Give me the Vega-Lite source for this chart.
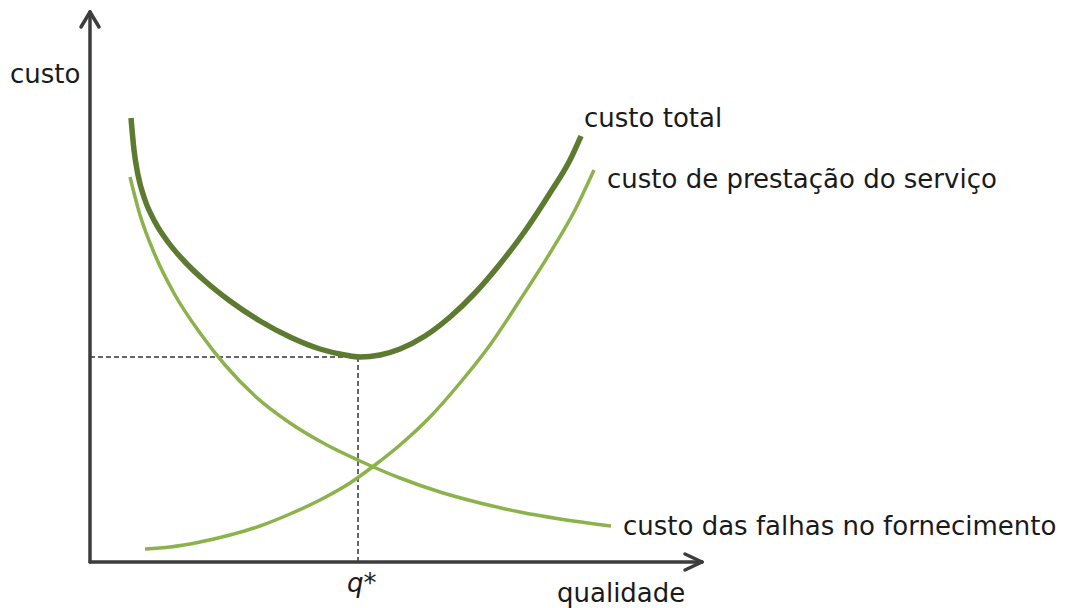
{
  "$schema": "https://vega.github.io/schema/vega-lite/v6.json",
  "width": 1065,
  "height": 608,
  "padding": 0,
  "autosize": {"type": "fit", "contains": "padding"},
  "background": "white",
  "config": {"view": {"stroke": null}},
  "datasets": {
    "curvas": [
      {"serie": "total", "qualidade": 41, "custo": 444},
      {"serie": "total", "qualidade": 44, "custo": 412},
      {"serie": "total", "qualidade": 48, "custo": 387},
      {"serie": "total", "qualidade": 55, "custo": 362},
      {"serie": "total", "qualidade": 65, "custo": 340},
      {"serie": "total", "qualidade": 78, "custo": 320},
      {"serie": "total", "qualidade": 95, "custo": 300},
      {"serie": "total", "qualidade": 115, "custo": 281},
      {"serie": "total", "qualidade": 140, "custo": 261},
      {"serie": "total", "qualidade": 170, "custo": 241},
      {"serie": "total", "qualidade": 200, "custo": 225},
      {"serie": "total", "qualidade": 230, "custo": 213},
      {"serie": "total", "qualidade": 255, "custo": 207},
      {"serie": "total", "qualidade": 270, "custo": 205},
      {"serie": "total", "qualidade": 290, "custo": 207},
      {"serie": "total", "qualidade": 310, "custo": 213},
      {"serie": "total", "qualidade": 335, "custo": 226},
      {"serie": "total", "qualidade": 360, "custo": 245},
      {"serie": "total", "qualidade": 385, "custo": 269},
      {"serie": "total", "qualidade": 410, "custo": 298},
      {"serie": "total", "qualidade": 435, "custo": 331},
      {"serie": "total", "qualidade": 460, "custo": 369},
      {"serie": "total", "qualidade": 480, "custo": 402},
      {"serie": "total", "qualidade": 491, "custo": 426},
      {"serie": "prestacao", "qualidade": 55, "custo": 13},
      {"serie": "prestacao", "qualidade": 80, "custo": 15},
      {"serie": "prestacao", "qualidade": 110, "custo": 20},
      {"serie": "prestacao", "qualidade": 140, "custo": 27},
      {"serie": "prestacao", "qualidade": 170, "custo": 36},
      {"serie": "prestacao", "qualidade": 200, "custo": 48},
      {"serie": "prestacao", "qualidade": 230, "custo": 62},
      {"serie": "prestacao", "qualidade": 260, "custo": 79},
      {"serie": "prestacao", "qualidade": 285, "custo": 97},
      {"serie": "prestacao", "qualidade": 310, "custo": 117},
      {"serie": "prestacao", "qualidade": 340, "custo": 145},
      {"serie": "prestacao", "qualidade": 370, "custo": 179},
      {"serie": "prestacao", "qualidade": 400, "custo": 217},
      {"serie": "prestacao", "qualidade": 430, "custo": 262},
      {"serie": "prestacao", "qualidade": 460, "custo": 309},
      {"serie": "prestacao", "qualidade": 485, "custo": 352},
      {"serie": "prestacao", "qualidade": 504, "custo": 392},
      {"serie": "falhas", "qualidade": 40, "custo": 385},
      {"serie": "falhas", "qualidade": 50, "custo": 347},
      {"serie": "falhas", "qualidade": 65, "custo": 307},
      {"serie": "falhas", "qualidade": 85, "custo": 267},
      {"serie": "falhas", "qualidade": 110, "custo": 229},
      {"serie": "falhas", "qualidade": 135, "custo": 197},
      {"serie": "falhas", "qualidade": 165, "custo": 166},
      {"serie": "falhas", "qualidade": 200, "custo": 139},
      {"serie": "falhas", "qualidade": 235, "custo": 118},
      {"serie": "falhas", "qualidade": 270, "custo": 101},
      {"serie": "falhas", "qualidade": 310, "custo": 84},
      {"serie": "falhas", "qualidade": 350, "custo": 70},
      {"serie": "falhas", "qualidade": 390, "custo": 59},
      {"serie": "falhas", "qualidade": 430, "custo": 50},
      {"serie": "falhas", "qualidade": 470, "custo": 43},
      {"serie": "falhas", "qualidade": 521, "custo": 36}
    ],
    "eixos": [
      {"qualidade": 0, "custo": 0, "q2": 0, "c2": 550},
      {"qualidade": 0, "custo": 550, "q2": -9, "c2": 535},
      {"qualidade": 0, "custo": 550, "q2": 9, "c2": 535},
      {"qualidade": 0, "custo": 0, "q2": 612, "c2": 0},
      {"qualidade": 612, "custo": 0, "q2": 595, "c2": 8},
      {"qualidade": 612, "custo": 0, "q2": 595, "c2": -8}
    ],
    "guias": [
      {"qualidade": 0, "custo": 205, "q2": 268, "c2": 205},
      {"qualidade": 268, "custo": 0, "q2": 268, "c2": 205}
    ],
    "rotulos": [
      {"texto": "custo", "qualidade": -80, "custo": 479},
      {"texto": "custo total", "qualidade": 494, "custo": 435},
      {"texto": "custo de prestação do serviço", "qualidade": 517, "custo": 374},
      {"texto": "custo das falhas no fornecimento", "qualidade": 533, "custo": 27},
      {"texto": "qualidade", "qualidade": 467, "custo": -40}
    ],
    "qstar": [
      {"texto": "q*", "qualidade": 257, "custo": -30}
    ]
  },
  "layer": [
    {
      "data": {"name": "guias"},
      "mark": {"type": "rule", "color": "#333333", "strokeWidth": 1.5, "strokeDash": [5, 3]},
      "encoding": {
        "x": {"field": "qualidade", "type": "quantitative", "scale": {"domain": [-90, 975]}, "axis": null},
        "y": {"field": "custo", "type": "quantitative", "scale": {"domain": [-46, 562]}, "axis": null},
        "x2": {"field": "q2"},
        "y2": {"field": "c2"}
      }
    },
    {
      "data": {"name": "curvas"},
      "transform": [{"filter": "datum.serie !== 'total'"}],
      "mark": {"type": "line", "interpolate": "monotone", "color": "#8bb24b", "strokeWidth": 3.5, "strokeCap": "butt"},
      "encoding": {
        "x": {"field": "qualidade", "type": "quantitative", "scale": {"domain": [-90, 975]}, "axis": null},
        "y": {"field": "custo", "type": "quantitative", "scale": {"domain": [-46, 562]}, "axis": null},
        "detail": {"field": "serie"}
      }
    },
    {
      "data": {"name": "curvas"},
      "transform": [{"filter": "datum.serie === 'total'"}],
      "mark": {"type": "line", "interpolate": "monotone", "color": "#5c7b30", "strokeWidth": 5.5, "strokeCap": "butt"},
      "encoding": {
        "x": {"field": "qualidade", "type": "quantitative", "scale": {"domain": [-90, 975]}, "axis": null},
        "y": {"field": "custo", "type": "quantitative", "scale": {"domain": [-46, 562]}, "axis": null}
      }
    },
    {
      "data": {"name": "eixos"},
      "mark": {"type": "rule", "color": "#3d3d3d", "strokeWidth": 3.5, "strokeCap": "round"},
      "encoding": {
        "x": {"field": "qualidade", "type": "quantitative", "scale": {"domain": [-90, 975]}, "axis": null},
        "y": {"field": "custo", "type": "quantitative", "scale": {"domain": [-46, 562]}, "axis": null},
        "x2": {"field": "q2"},
        "y2": {"field": "c2"}
      }
    },
    {
      "data": {"name": "rotulos"},
      "mark": {"type": "text", "align": "left", "baseline": "alphabetic", "font": "DejaVu Sans", "fontSize": 26, "color": "#1a1a1a"},
      "encoding": {
        "x": {"field": "qualidade", "type": "quantitative", "scale": {"domain": [-90, 975]}, "axis": null},
        "y": {"field": "custo", "type": "quantitative", "scale": {"domain": [-46, 562]}, "axis": null},
        "text": {"field": "texto"}
      }
    },
    {
      "data": {"name": "qstar"},
      "mark": {"type": "text", "align": "left", "baseline": "alphabetic", "font": "DejaVu Sans", "fontSize": 26, "fontStyle": "italic", "color": "#1a1a1a"},
      "encoding": {
        "x": {"field": "qualidade", "type": "quantitative", "scale": {"domain": [-90, 975]}, "axis": null},
        "y": {"field": "custo", "type": "quantitative", "scale": {"domain": [-46, 562]}, "axis": null},
        "text": {"field": "texto"}
      }
    }
  ]
}
